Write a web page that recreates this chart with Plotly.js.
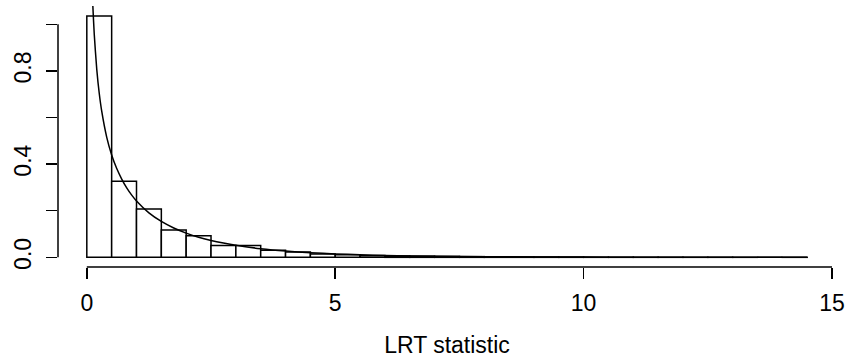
<!DOCTYPE html>
<html>
<head>
<meta charset="utf-8">
<script src="https://cdn.plot.ly/plotly-3.0.1.min.js"></script>
<style>
  html, body { margin: 0; padding: 0; background: #ffffff; }
  #chart { width: 850px; height: 363px; }
</style>
</head>
<body>
<div id="chart"></div>
<script>
// Histogram bins (left edges, width 0.5) and densities
const binLeft = [0, 0.5, 1, 1.5, 2, 2.5, 3, 3.5, 4, 4.5, 5, 5.5, 6, 6.5, 7, 7.5,
                 8, 8.5, 9, 9.5, 10, 10.5, 11, 11.5, 12, 12.5, 13, 13.5, 14];
const binWidth = 0.5;
const density = [1.036, 0.327, 0.207, 0.117, 0.093, 0.051, 0.051, 0.030, 0.023, 0.014,
                 0.011, 0.008, 0.006, 0.005, 0.004, 0.003, 0.0025, 0.002, 0.0018, 0.0014,
                 0.001, 0.0009, 0.0007, 0.0006, 0.0004, 0.0004, 0.0002, 0, 0.0002];

// Overlaid density curve
const curveX = [0.1, 0.12, 0.15, 0.2, 0.25, 0.3, 0.4, 0.5, 0.6, 0.7, 0.8, 0.9, 1.0,
                1.25, 1.5, 1.75, 2, 2.25, 2.5, 2.75, 3, 3.5, 4, 4.5, 5, 5.5, 6, 7, 8,
                9, 10, 11, 12, 13, 14.5];
const curveY = [1.2, 1.085, 0.956, 0.807, 0.704, 0.627, 0.516, 0.439, 0.382, 0.337, 0.299,
                0.268, 0.242, 0.191, 0.154, 0.126, 0.104, 0.086, 0.0723, 0.061, 0.0514,
                0.0371, 0.027, 0.0199, 0.0147, 0.0109, 0.0081, 0.0046, 0.0026, 0.0015,
                0.0009, 0.0005, 0.0003, 0.0002, 0.0001];

// Axis ticks
const xTicks = [0, 5, 10, 15];
const xTickText = ['0', '5', '10', '15'];
const yTicks = [0, 0.2, 0.4, 0.6, 0.8, 1.0];
const yTickText = ['0.0', '', '0.4', '', '0.8', ''];

const font = { family: 'Liberation Sans, Arial, sans-serif', size: 23, color: '#000000' };

const traces = [
  {
    type: 'bar',
    x: binLeft,
    y: density,
    width: binWidth,
    offset: 0,
    marker: { color: '#ffffff', line: { color: '#000000', width: 1.5 } },
    hoverinfo: 'skip',
    showlegend: false
  },
  {
    type: 'scatter',
    mode: 'lines',
    x: curveX,
    y: curveY,
    line: { color: '#000000', width: 1.5, shape: 'spline', smoothing: 0.6 },
    hoverinfo: 'skip',
    showlegend: false
  }
];

const layout = {
  width: 850,
  height: 363,
  margin: { l: 58, r: 14, t: 6, b: 96, pad: 0 },
  paper_bgcolor: '#ffffff',
  plot_bgcolor: '#ffffff',
  font: font,
  showlegend: false,
  bargap: 0,
  xaxis: {
    range: [-0.58, 15.08],
    showgrid: false,
    zeroline: false,
    showline: false,
    tickmode: 'array',
    tickvals: xTicks,
    ticktext: xTickText,
    ticks: 'outside',
    ticklen: 11,
    tickwidth: 1.5,
    tickcolor: '#000000',
    tickfont: font,
    ticklabelstandoff: 4,
    title: { text: 'LRT statistic', font: font, standoff: 22 },
    fixedrange: true
  },
  yaxis: {
    range: [-0.0415, 1.0785],
    showgrid: false,
    zeroline: false,
    showline: false,
    tickmode: 'array',
    tickvals: yTicks,
    ticktext: yTickText,
    ticks: 'outside',
    ticklen: 11,
    tickwidth: 1.5,
    tickcolor: '#000000',
    tickfont: font,
    tickangle: -90,
    ticklabelstandoff: 6,
    fixedrange: true
  },
  shapes: [
    { type: 'line', xref: 'x', yref: 'paper',
      x0: xTicks[0], x1: xTicks[xTicks.length - 1], y0: 0, y1: 0,
      line: { color: '#000000', width: 1.5 } },
    { type: 'line', xref: 'paper', yref: 'y',
      x0: 0, x1: 0, y0: yTicks[0], y1: yTicks[yTicks.length - 1],
      line: { color: '#000000', width: 1.5 } }
  ]
};

Plotly.newPlot('chart', traces, layout, { staticPlot: true, displayModeBar: false });
</script>
</body>
</html>
